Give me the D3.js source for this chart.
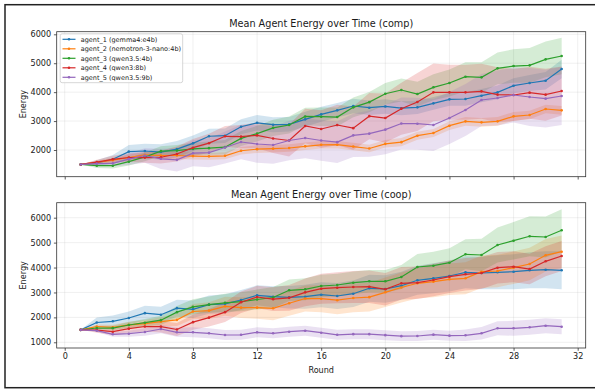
<!DOCTYPE html>
<html><head><meta charset="utf-8">
<script src="https://cdn.jsdelivr.net/npm/d3@7"></script>
<style>body{margin:0;background:#fff}svg{display:block;font-family:"DejaVu Sans",sans-serif}</style>
</head><body><svg id="c" width="595" height="389"></svg>
<script>
const rounds = d3.range(1, 32).map(d => d); // rounds 1..31
const agents = ["agent_1 (gemma4:e4b)","agent_2 (nemotron-3-nano:4b)","agent_3 (qwen3.5:4b)","agent_4 (qwen3:8b)","agent_5 (qwen3.5:9b)"];
const colors = ["#1f77b4","#ff7f0e","#2ca02c","#d62728","#9467bd"];
const xTicks = [0,4,8,12,16,20,24,28,32];
const yTicksComp = [2000,3000,4000,5000,6000];
const yTicksCoop = [1000,2000,3000,4000,5000,6000];

// comp means
const comp_a1 = [1500,1550,1680,1945,1965,1930,2030,2230,2475,2495,2806,2940,2875,2887,3060,3233,3371,3521,3463,3505,3445,3475,3613,3752,3763,3877,3994,4223,4316,4396,4800];
const comp_a2 = [1500,1570,1650,1740,1830,1810,1810,1790,1780,1800,1975,2030,2046,2070,2127,2180,2184,2120,2052,2213,2271,2495,2588,2841,2991,2956,2991,3164,3210,3417,3371];
const comp_a3 = [1500,1458,1458,1597,1760,1960,1980,2040,2064,2098,2400,2565,2765,2864,3160,3152,3140,3475,3655,3945,4074,3936,4167,4316,4535,4512,4823,4903,4926,5134,5249];
const comp_a4 = [1500,1580,1678,1741,1738,1750,1862,2080,2236,2473,2461,2507,2398,2329,2830,2726,2864,2755,3170,3106,3429,3659,3994,3994,3994,4028,3913,3902,3982,3913,4040];
const comp_a5 = [1500,1530,1539,1684,1810,1695,1660,1890,1908,2086,2277,2207,2173,2329,2415,2329,2271,2507,2565,2703,2916,2910,2864,3106,3383,3729,3798,3902,3832,3775,3867];
// comp std
const comp_s1 = [0,100,150,230,250,270,280,270,260,250,260,270,260,250,260,260,250,250,250,250,240,230,220,220,230,230,240,260,280,300,320];
const comp_s2 = [0,60,80,100,110,120,120,120,120,120,130,130,130,130,130,130,130,130,130,130,140,140,140,150,150,150,150,150,150,150,150];
const comp_s3 = [0,80,100,130,150,170,190,210,230,250,260,270,280,290,300,320,330,340,350,370,400,420,450,470,500,520,550,580,600,620,630];
const comp_s4 = [0,80,120,150,180,220,260,300,330,360,400,450,500,550,600,650,700,750,800,850,900,1000,1000,950,950,950,950,900,900,900,850];
const comp_s5 = [0,50,100,200,250,350,400,450,500,550,600,650,650,680,700,700,720,750,800,850,900,900,900,900,900,900,950,950,1000,1000,1000];

// coop means
const coop_a1 = [1500,1795,1842,1975,2170,2108,2370,2324,2511,2545,2697,2886,2830,2806,2830,2910,2858,2950,3167,3139,3271,3488,3568,3661,3809,3781,3809,3833,3889,3913,3889];
const coop_a2 = [1500,1634,1601,1700,1748,1828,1901,2236,2270,2444,2390,2390,2364,2565,2758,2750,2690,2778,2812,3006,3199,3368,3432,3528,3568,3833,3861,3994,4142,4491,4636];
const coop_a3 = [1500,1574,1568,1694,1787,1888,2210,2424,2511,2584,2629,2718,2798,3087,3126,3259,3299,3392,3448,3448,3620,4022,4074,4194,4531,4504,4905,5077,5254,5226,5494];
const coop_a4 = [1500,1488,1426,1548,1634,1628,1514,1808,1988,2210,2610,2817,2732,2784,3005,3151,3191,3219,3231,3127,3368,3392,3500,3633,3729,3781,3994,4034,3941,4250,4463];
const coop_a5 = [1500,1466,1321,1345,1413,1534,1401,1401,1361,1293,1300,1401,1361,1426,1466,1386,1300,1326,1326,1287,1247,1253,1306,1266,1280,1361,1562,1562,1602,1666,1626];
// coop std
const coop_s1 = [0,200,230,260,300,320,340,350,370,380,400,400,420,450,480,500,520,530,540,550,560,580,600,620,640,650,680,700,720,740,760];
const coop_s2 = [0,80,100,120,150,180,250,300,340,380,420,450,480,500,520,540,560,570,580,590,600,610,620,630,640,650,650,650,650,650,650];
const coop_s3 = [0,80,100,120,150,180,250,300,330,360,380,400,420,430,440,450,450,450,450,450,480,520,560,580,600,650,700,750,800,820,850];
const coop_s4 = [0,100,130,160,200,230,260,300,350,400,430,450,480,520,560,600,620,640,650,650,650,650,650,650,650,640,630,620,610,600,600];
const coop_s5 = [0,50,100,120,150,170,180,200,200,200,200,200,200,200,200,200,200,200,200,200,200,200,200,200,230,250,280,300,300,300,300];

const svg = d3.select("#c");
const W = 595, H = 389;
svg.append("rect").attr("width", W).attr("height", H).attr("fill", "#fff");

const x = d3.scaleLinear().domain([-0.5, 32.5]).range([56.7, 585.7]);

function panel(cfg) {
  const y = d3.scaleLinear().domain(cfg.yDomain).range([cfg.bottom, cfg.top]);
  const g = svg.append("g");
  const [x0, x1] = x.range();
  // grid
  g.append("g").selectAll("line").data(xTicks).join("line")
    .attr("x1", d => x(d)).attr("x2", d => x(d)).attr("y1", cfg.top).attr("y2", cfg.bottom)
    .attr("stroke", "#b0b0b0").attr("stroke-opacity", 0.3).attr("stroke-width", 0.65);
  g.append("g").selectAll("line").data(cfg.yTicks).join("line")
    .attr("x1", x0).attr("x2", x1).attr("y1", d => y(d)).attr("y2", d => y(d))
    .attr("stroke", "#b0b0b0").attr("stroke-opacity", 0.3).attr("stroke-width", 0.65);
  // bands
  const area = d3.area().x((d, i) => x(rounds[i])).y0(d => y(d[0] - d[1])).y1(d => y(d[0] + d[1]));
  cfg.means.forEach((m, k) => {
    const pts = m.map((v, i) => [v, cfg.stds[k][i]]);
    g.append("path").attr("d", area(pts)).attr("fill", colors[k]).attr("fill-opacity", 0.2).attr("stroke", "none");
  });
  // lines
  const line = d3.line().x((d, i) => x(rounds[i])).y(d => y(d));
  cfg.means.forEach((m, k) => {
    g.append("path").attr("d", line(m)).attr("fill", "none").attr("stroke", colors[k]).attr("stroke-width", 1.2);
    g.append("g").selectAll("circle").data(m).join("circle")
      .attr("cx", (d, i) => x(rounds[i])).attr("cy", d => y(d)).attr("r", 1.3).attr("fill", colors[k]);
  });
  // spines
  g.append("rect").attr("x", x0).attr("y", cfg.top).attr("width", x1 - x0).attr("height", cfg.bottom - cfg.top)
    .attr("fill", "none").attr("stroke", "#333").attr("stroke-width", 0.8);
  // axes
  const ax = g.append("g").attr("transform", `translate(0,${cfg.bottom})`)
    .call(d3.axisBottom(x).tickValues(xTicks).tickSize(2.8).tickPadding(2.8)
      .tickFormat(cfg.showX ? d3.format("d") : () => ""));
  const ay = g.append("g").attr("transform", `translate(${x0},0)`)
    .call(d3.axisLeft(y).tickValues(cfg.yTicks).tickSize(2.8).tickPadding(2.8).tickFormat(d3.format("d")));
  [ax, ay].forEach(a => {
    a.select(".domain").remove();
    a.selectAll(".tick line").attr("stroke", "#333").attr("stroke-width", 0.8);
    a.selectAll(".tick text").attr("fill", "#1a1a1a").attr("font-size", "8.1px").attr("font-family", "DejaVu Sans");
  });
  // title
  g.append("text").attr("x", (x0 + x1) / 2).attr("y", cfg.titleY).attr("text-anchor", "middle")
    .attr("font-size", "9.7px").attr("fill", "#1a1a1a").text(cfg.title);
  // ylabel
  g.append("text").attr("transform", `translate(25.5,${(cfg.top + cfg.bottom) / 2}) rotate(-90)`)
    .attr("text-anchor", "middle").attr("font-size", "8.1px").attr("fill", "#1a1a1a").text("Energy");
  return y;
}

panel({ top: 31.7, bottom: 176.7, yDomain: [1077, 6090], yTicks: yTicksComp, showX: false,
  title: "Mean Agent Energy over Time (comp)", titleY: 26.5,
  means: [comp_a1, comp_a2, comp_a3, comp_a4, comp_a5], stds: [comp_s1, comp_s2, comp_s3, comp_s4, comp_s5] });
panel({ top: 202.7, bottom: 348, yDomain: [771, 6602], yTicks: yTicksCoop, showX: true,
  title: "Mean Agent Energy over Time (coop)", titleY: 197.5,
  means: [coop_a1, coop_a2, coop_a3, coop_a4, coop_a5], stds: [coop_s1, coop_s2, coop_s3, coop_s4, coop_s5] });

// x label
svg.append("text").attr("x", 321.2).attr("y", 373).attr("text-anchor", "middle")
  .attr("font-size", "8.1px").attr("fill", "#1a1a1a").text("Round");

// legend
const lg = svg.append("g");
lg.append("rect").attr("x", 60.2).attr("y", 33.8).attr("width", 122.5).attr("height", 48.9).attr("rx", 2)
  .attr("fill", "#fff").attr("fill-opacity", 0.8).attr("stroke", "#cccccc").attr("stroke-width", 0.8);
agents.forEach((a, k) => {
  const cy = 39.3 + k * 9.5;
  lg.append("line").attr("x1", 62.5).attr("x2", 75.5).attr("y1", cy).attr("y2", cy)
    .attr("stroke", colors[k]).attr("stroke-width", 1.2);
  lg.append("circle").attr("cx", 69).attr("cy", cy).attr("r", 1.3).attr("fill", colors[k]);
  lg.append("text").attr("x", 80.7).attr("y", cy).attr("dy", "0.35em").attr("font-size", "6.5px")
    .attr("fill", "#1a1a1a").text(a);
});

// outer figure frame
svg.append("rect").attr("x", 5).attr("y", 4.7).attr("width", 600).attr("height", 383)
  .attr("fill", "none").attr("stroke", "#222").attr("stroke-width", 1.5);
</script></body></html>
